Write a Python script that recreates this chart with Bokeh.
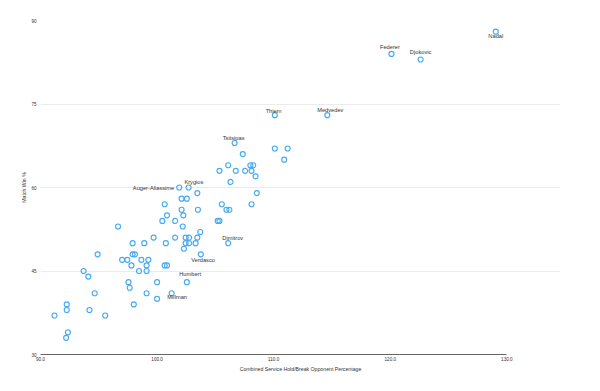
from bokeh.plotting import figure
from bokeh.models import ColumnDataSource, Range1d, FixedTicker, NumeralTickFormatter
from bokeh.embed import file_html
from bokeh.resources import INLINE
from bokeh.core.properties import value

# ---- data ----
hold_break = [129.05, 120.1, 122.6, 114.6, 110.1, 106.65, 110.1, 111.2, 107.35, 110.9,
              106.1, 108.0, 108.25, 105.35, 106.75, 107.55, 108.1, 108.45, 106.3, 101.9,
              102.7, 103.45, 108.55, 102.1, 102.55, 100.65, 105.55, 108.1, 102.1, 103.5,
              105.95, 106.2, 100.85, 102.25, 100.45, 101.55, 105.2, 105.35, 96.65, 102.2,
              103.7, 99.7, 101.55, 102.45, 102.75, 103.45, 97.9, 98.9, 100.75, 102.45,
              102.75, 103.3, 106.1, 102.3, 94.9, 97.9, 98.1, 103.75, 97.0, 97.45,
              98.65, 99.25, 97.8, 99.1, 100.65, 100.85, 93.7, 98.45, 99.1, 94.1,
              97.55, 100.0, 102.55, 97.65, 94.65, 99.1, 101.25, 100.0, 92.25, 98.0,
              92.25, 94.2, 91.2, 95.55, 92.35, 92.2]
match_win = [88, 84, 83, 73, 73, 68, 67, 67, 66, 65,
             64, 64, 64, 63, 63, 63, 63, 62, 61, 60,
             60, 59, 59, 58, 58, 57, 57, 57, 56, 56,
             56, 56, 55, 55, 54, 54, 54, 54, 53, 53,
             52, 51, 51, 51, 51, 51, 50, 50, 50, 50,
             50, 50, 50, 49, 48, 48, 48, 48, 47, 47,
             47, 47, 46, 46, 46, 46, 45, 45, 45, 44,
             43, 43, 43, 42, 41, 41, 41, 40, 39, 39,
             38, 38, 37, 37, 34, 33]
player = ["Nadal", "Federer", "Djokovic", "Medvedev", "Thiem", "Tsitsipas"] + [""] * 13 + \
         ["Auger-Aliassime", "Krygios"] + [""] * 31 + ["Dimitrov"] + [""] * 4 + ["Verdasco"] + \
         [""] * 14 + ["Humbert"] + [""] * 3 + ["Millman"] + [""] * 9

x_ticks = [90, 100, 110, 120, 130]
y_ticks = [30, 45, 60, 75, 90]
x_title = "Combined Service Hold/Break Opponent Percentage"
y_title = "Match Win %"

# ---- label styling (screen offsets / alignment) ----
label_style = {
    "Nadal": (0, 4.7, "center"),
    "Federer": (-1.5, -6.7, "center"),
    "Djokovic": (0, -7, "center"),
    "Medvedev": (3, -5, "center"),
    "Thiem": (-1.3, -4.5, "center"),
    "Tsitsipas": (-1, -5, "center"),
    "Auger-Aliassime": (-5, 0, "right"),
    "Krygios": (5.3, -5.6, "center"),
    "Dimitrov": (4.5, -5, "center"),
    "Verdasco": (2.3, 5.3, "center"),
    "Humbert": (3.3, -7.7, "center"),
    "Millman": (5.5, 3.5, "center"),
}

FONT_NAME = "Liberation Sans"

p = figure(width=592, height=383, x_range=Range1d(90, 134.6), y_range=Range1d(30, 90),
           output_backend="svg", toolbar_location=None,
           min_border_left=40, min_border_right=32, min_border_top=20, min_border_bottom=29)
p.outline_line_color = None
p.background_fill_color = "white"
p.border_fill_color = "white"

src = ColumnDataSource(dict(x=hold_break, y=match_win))
p.scatter("x", "y", source=src, size=5.0, fill_alpha=0, line_color="#45aaf2", line_width=1.15)

lx, ly, lt, dx, dy, al = [], [], [], [], [], []
for xv, yv, nm in zip(hold_break, match_win, player):
    if nm:
        ox, oy, a = label_style[nm]
        lx.append(xv); ly.append(yv); lt.append(nm); dx.append(ox); dy.append(oy); al.append(a)
lsrc = ColumnDataSource(dict(x=lx, y=ly, t=lt, dx=dx, dy=dy, al=al))
p.text("x", "y", text="t", source=lsrc, x_offset="dx", y_offset="dy", text_align="al",
       text_baseline="middle", text_font=value(FONT_NAME), text_font_size="5.7px",
       text_color="#333333")

# axes
p.xaxis.ticker = FixedTicker(ticks=x_ticks)
p.xaxis.formatter = NumeralTickFormatter(format="0.0")
p.xaxis.bounds = (90, 130)
p.yaxis.ticker = FixedTicker(ticks=y_ticks)
for ax in (p.xaxis, p.yaxis):
    ax.major_tick_out = 0
    ax.major_tick_in = 0
    ax.minor_tick_out = 0
    ax.minor_tick_in = 0
    ax.major_label_text_font = FONT_NAME
    ax.major_label_text_font_size = "4.6px"
    ax.major_label_text_color = "#333333"
    ax.axis_label_text_font = FONT_NAME
    ax.axis_label_text_font_size = "5.2px"
    ax.axis_label_text_font_style = "normal"
    ax.axis_label_text_color = "#333333"
p.xaxis.axis_line_color = "#666666"
p.xaxis.axis_line_width = 1
p.xaxis.major_label_standoff = 2
p.xaxis.axis_label = x_title
p.xaxis.axis_label_standoff = 2
p.yaxis.axis_line_color = None
p.yaxis.major_label_standoff = 4
p.yaxis.axis_label = y_title
p.yaxis.axis_label_standoff = 1

p.xgrid.grid_line_color = None
p.ygrid.grid_line_color = "#ebebeb"
p.ygrid.grid_line_width = 1

open("out.html", "w").write(file_html(p, INLINE))
